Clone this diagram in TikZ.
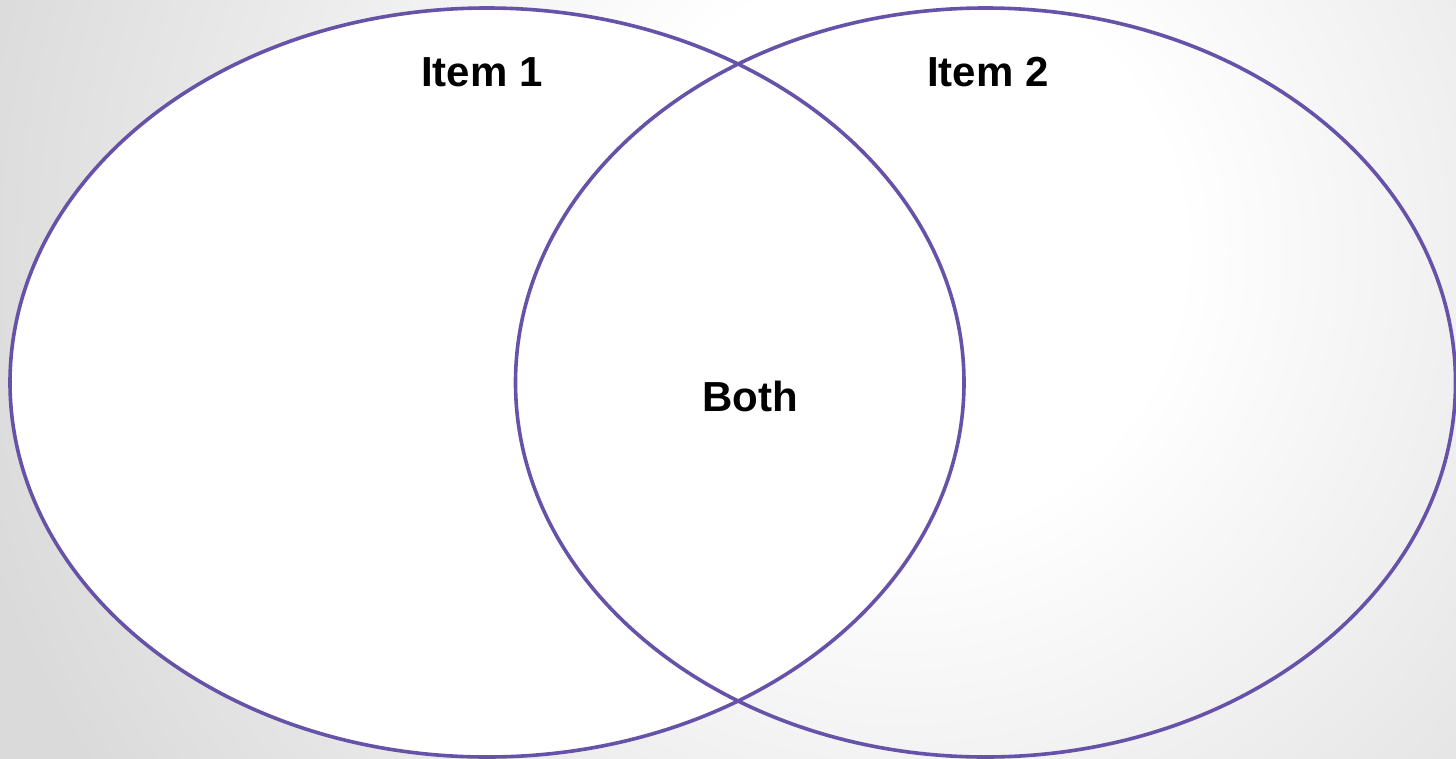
\documentclass[tikz,border=0pt]{standalone}
\usepackage{fontspec}
\setmainfont{Liberation Sans}
\usetikzlibrary{shapes.geometric}
\definecolor{vennline}{HTML}{6652A8}
\definecolor{bggray}{HTML}{DADADA}
\pgfdeclareradialshading{bgshade}{\pgfpoint{0bp}{0bp}}{color(0bp)=(white); color(280bp)=(white); color(960bp)=(bggray); color(1100bp)=(bggray)}
\tikzset{
  venn/.style={ellipse, draw=vennline, line width=3.6pt, inner sep=0pt, outer sep=0pt},
  vlabel/.style={font=\fontsize{42}{48}\selectfont\bfseries, text=black, anchor=base, inner sep=0pt}
}
\begin{document}
\begin{tikzpicture}[x=1pt,y=-1pt]
\useasboundingbox (0,0) rectangle (1456,758);
\begin{scope}
  \clip (0,0) rectangle (1456,758);
  \fill[bggray] (0,0) rectangle (1456,758);
  \node[inner sep=0pt, outer sep=0pt] (bg) at (900,250) {\pgfuseshading{bgshade}};
\end{scope}
\node[venn, fill=white, minimum width=954pt, minimum height=749pt] (left) at (487,382.5) {};
\node[venn, minimum width=940pt, minimum height=749pt] (right) at (985.5,382.5) {};
\node[vlabel] (item1) at (482,86.5) {Item 1};
\node[vlabel] (item2) at (988,86.5) {Item 2};
\node[vlabel] (both) at (750,411.5) {Both};
\end{tikzpicture}
\end{document}
